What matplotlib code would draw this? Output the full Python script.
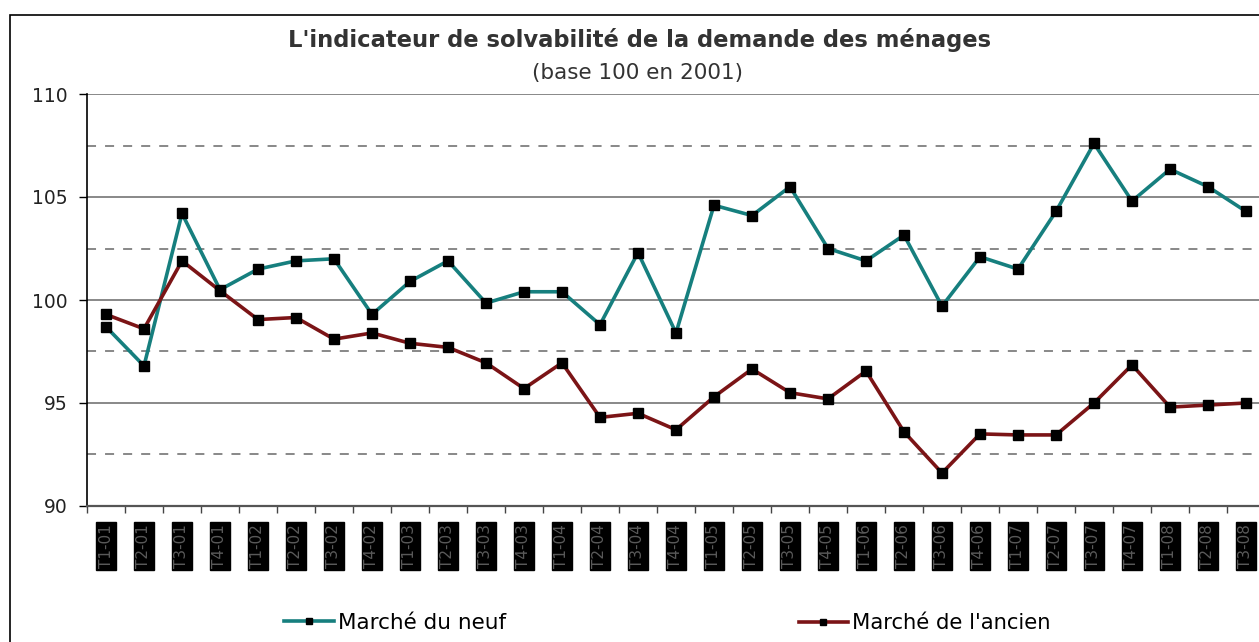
import matplotlib
matplotlib.use("Agg")
import matplotlib.pyplot as plt
from matplotlib.patches import Rectangle
from matplotlib.lines import Line2D

categories = ["T1-01", "T2-01", "T3-01", "T4-01",
              "T1-02", "T2-02", "T3-02", "T4-02",
              "T1-03", "T2-03", "T3-03", "T4-03",
              "T1-04", "T2-04", "T3-04", "T4-04",
              "T1-05", "T2-05", "T3-05", "T4-05",
              "T1-06", "T2-06", "T3-06", "T4-06",
              "T1-07", "T2-07", "T3-07", "T4-07",
              "T1-08", "T2-08", "T3-08"]

neuf = [98.7, 96.8, 104.2, 100.5,
        101.5, 101.9, 102.0, 99.3,
        100.9, 101.9, 99.85, 100.4,
        100.4, 98.8, 102.3, 98.4,
        104.6, 104.1, 105.5, 102.5,
        101.9, 103.15, 99.7, 102.1,
        101.5, 104.3, 107.6, 104.8,
        106.35, 105.5, 104.3]

ancien = [99.3, 98.6, 101.9, 100.45,
          99.05, 99.15, 98.1, 98.4,
          97.9, 97.7, 96.95, 95.7,
          96.95, 94.3, 94.5, 93.7,
          95.3, 96.65, 95.5, 95.2,
          96.55, 93.6, 91.6, 93.5,
          93.45, 93.45, 95.0, 96.85,
          94.8, 94.9, 95.0]

yticks = [90, 95, 100, 105, 110]
minor_grid = [92.5, 97.5, 102.5, 107.5]

W, H = 1259, 642
fig = plt.figure(figsize=(W / 100, H / 100), dpi=100)

# outer frame (cropped at right and bottom)
fig.add_artist(Rectangle((10 / W, -0.1), 1.2, (H - 15) / H + 0.1,
                         transform=fig.transFigure, fill=False,
                         edgecolor="black", linewidth=1.2))

ax = fig.add_axes([87 / W, (H - 506) / H, 31 * 38 / W, 412 / H])
x = list(range(len(categories)))

for g in yticks[1:]:
    ax.axhline(g, color="#7f7f7f", linewidth=1.3, zorder=1)
for g in minor_grid:
    ax.axhline(g, color="#7f7f7f", linewidth=1.3, linestyle=(0, (5, 5)), zorder=1)

teal = "#167f7e"
red = "#7b1416"
ax.plot(x, neuf, color=teal, linewidth=2.6, marker="s", markersize=6.5,
        markerfacecolor="black", markeredgecolor="black", zorder=3,
        label="Marché du neuf")
ax.plot(x, ancien, color=red, linewidth=2.6, marker="s", markersize=6.5,
        markerfacecolor="black", markeredgecolor="black", zorder=3,
        label="Marché de l'ancien")

ax.set_xlim(-0.5, len(categories) - 0.5)
ax.set_ylim(90, 110)
ax.set_yticks(yticks)
ax.set_yticklabels([str(v) for v in yticks], fontsize=13.5, color="#222222")
ax.tick_params(axis="y", direction="out", length=6, width=1, pad=8)

ax.set_xticks([i - 0.5 for i in range(len(categories) + 1)])
ax.set_xticklabels([])
ax.tick_params(axis="x", direction="out", length=5, width=1, color="#444444")

for s in ["top", "right"]:
    ax.spines[s].set_visible(False)
ax.spines["left"].set_color("black")
ax.spines["left"].set_linewidth(1.2)
ax.spines["bottom"].set_color("#555555")
ax.spines["bottom"].set_linewidth(1.6)

for i, lab in enumerate(categories):
    ax.annotate(lab, xy=(i, 90), xycoords="data", xytext=(0, -13),
                textcoords="offset points", rotation=90, ha="center", va="top",
                fontsize=11, color="#5a5a5a",
                bbox=dict(boxstyle="square,pad=0.15", facecolor="black",
                          edgecolor="black"))

fig.text(640 / W, 1 - 40 / H, "L'indicateur de solvabilité de la demande des ménages",
         ha="center", va="center", fontsize=16.3, fontweight="bold", color="#333333")
fig.text(638 / W, 1 - 73 / H, "(base 100 en 2001)",
         ha="center", va="center", fontsize=15.5, color="#333333")

h1 = Line2D([], [], color=teal, linewidth=2.6, marker="s", markersize=5,
            markerfacecolor="black", markeredgecolor="black")
h2 = Line2D([], [], color=red, linewidth=2.6, marker="s", markersize=5,
            markerfacecolor="black", markeredgecolor="black")
fig.legend([h1], ["Marché du neuf"], loc="center left",
           bbox_to_anchor=(265 / W, 1 - 623 / H), frameon=False,
           fontsize=15.5, handlelength=2.3, handletextpad=0.2)
fig.legend([h2], ["Marché de l'ancien"], loc="center left",
           bbox_to_anchor=(780 / W, 1 - 623 / H), frameon=False,
           fontsize=15.2, handlelength=2.3, handletextpad=0.2)

fig.savefig("out.png", dpi=100)
